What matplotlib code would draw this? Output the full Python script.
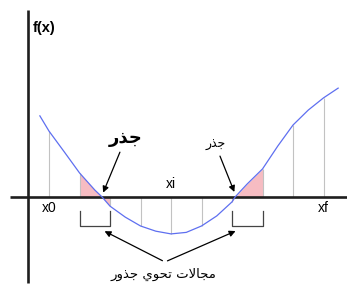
import numpy as np
import matplotlib
matplotlib.use('Agg')
import matplotlib.pyplot as plt

# نقاط المنحنى f(x) مقروءة من الصورة (وحدة = تباعد الخطوط الرأسية)
curve_x = [-0.3, 0.0, 0.5, 1.0, 1.5, 1.74, 2.0, 2.5, 3.0, 3.5, 4.0, 4.5, 5.0,
           5.5, 6.0, 6.1, 6.5, 7.0, 7.5, 8.0, 8.5, 9.0, 9.48]
curve_y = [2.66, 2.16, 1.48, 0.79, 0.23, 0.0, -0.30, -0.66, -0.95, -1.12, -1.21,
           -1.16, -0.95, -0.62, -0.16, 0.0, 0.43, 0.92, 1.67, 2.36, 2.85, 3.25, 3.57]

grid_x = [0, 1, 2, 3, 4, 5, 6, 7, 8, 9]
roots = [1.74, 6.10]
root_intervals = [(1, 2), (6, 7)]

axis_label = 'f(x)'
tick_labels = ['x0', 'xi', 'xf']
tick_pos = [0, 4, 9]
root_label = 'جذر'
interval_label = 'مجالات تحوي جذور'

# تشكيل الحروف العربية يدويا (matplotlib لا يربط الحروف)
DUAL = {'ت': 0xFE95, 'ج': 0xFE9D, 'ح': 0xFEA1, 'ل': 0xFEDD, 'م': 0xFEE1, 'ي': 0xFEF1}
RIGHT = {'ا': 0xFE8D, 'ذ': 0xFEAB, 'ر': 0xFEAD, 'و': 0xFEED}


def shape_arabic(text):
    chars = list(text)
    out = []
    i = 0
    while i < len(chars):
        c = chars[i]
        prev_joins = i > 0 and chars[i - 1] in DUAL
        if c == 'ل' and i + 1 < len(chars) and chars[i + 1] == 'ا':
            out.append(chr(0xFEFC if prev_joins else 0xFEFB))
            i += 2
            continue
        if c in DUAL:
            nxt = chars[i + 1] if i + 1 < len(chars) else ''
            next_joins = nxt in DUAL or nxt in RIGHT
            if prev_joins and next_joins:
                form = 3
            elif prev_joins:
                form = 1
            elif next_joins:
                form = 2
            else:
                form = 0
            out.append(chr(DUAL[c] + form))
        elif c in RIGHT:
            out.append(chr(RIGHT[c] + (1 if prev_joins else 0)))
        else:
            out.append(c)
        i += 1
    return ''.join(reversed(out))


cx = np.array(curve_x)
cy = np.array(curve_y)

fig = plt.figure(figsize=(3.47, 3.04), dpi=100)
ax = fig.add_axes([0, 0, 1, 1])
ax.set_xlim(-1.607, 9.770)
ax.set_ylim(-3.508, 6.459)
ax.axis('off')

# المساحات الوردية بين المنحنى والمحور
for a, b in root_intervals:
    sel = (cx >= a) & (cx <= b)
    ax.fill_between(cx[sel], cy[sel], 0, color='#f6bcc2', lw=0, zorder=1)

# الخطوط الرأسية الرمادية
for gx in grid_x:
    gy = cy[np.isclose(cx, gx)][0]
    ax.vlines(gx, 0, gy, color='#c2c2c2', lw=0.8, zorder=2)

# المحاور
ax.plot([-1.28, 9.77], [0, 0], color='#1e1e1e', lw=1.9, zorder=3, solid_capstyle='butt')
ax.plot([-0.69, -0.69], [-2.82, 6.13], color='#1e1e1e', lw=1.9, zorder=3, solid_capstyle='butt')

# المنحنى
ax.plot(cx, cy, color='#5e6ff0', lw=0.9, zorder=4)

# الأقواس تحت المجالات
for a, b in root_intervals:
    ax.plot([a, a, b, b], [-0.46, -0.95, -0.95, -0.46], color='#444444', lw=0.9, zorder=3)

# النصوص
ax.text(-0.52, 5.55, axis_label, fontsize=10.5, fontweight='bold',
        family='Liberation Sans', ha='left', va='center')
ax.text(tick_pos[0], -0.36, tick_labels[0], fontsize=10, family='Liberation Sans',
        ha='center', va='center')
ax.text(tick_pos[1], 0.43, tick_labels[1], fontsize=10, family='Liberation Sans',
        ha='center', va='center')
ax.text(tick_pos[2], -0.36, tick_labels[2], fontsize=10, family='Liberation Sans',
        ha='center', va='center')

arrow = dict(arrowstyle='-|>', color='black', lw=0.9, mutation_scale=9)
ax.annotate(shape_arabic(root_label), xy=(roots[0], 0.06), xytext=(2.52, 1.94),
            fontsize=13, fontweight='bold', family='DejaVu Sans',
            ha='center', va='center', arrowprops=arrow)
ax.annotate(shape_arabic(root_label), xy=(roots[1] + 0.01, 0.08), xytext=(5.45, 1.73),
            fontsize=9, family='DejaVu Sans', ha='center', va='center',
            arrowprops=arrow)

ax.text(3.74, -2.55, shape_arabic(interval_label), fontsize=9.5, family='DejaVu Sans',
        ha='center', va='center')
ax.annotate('', xy=(1.74, -1.08), xytext=(3.80, -2.13), arrowprops=arrow)
ax.annotate('', xy=(6.20, -1.08), xytext=(3.80, -2.13), arrowprops=arrow)

fig.savefig('out.png', dpi=100)
